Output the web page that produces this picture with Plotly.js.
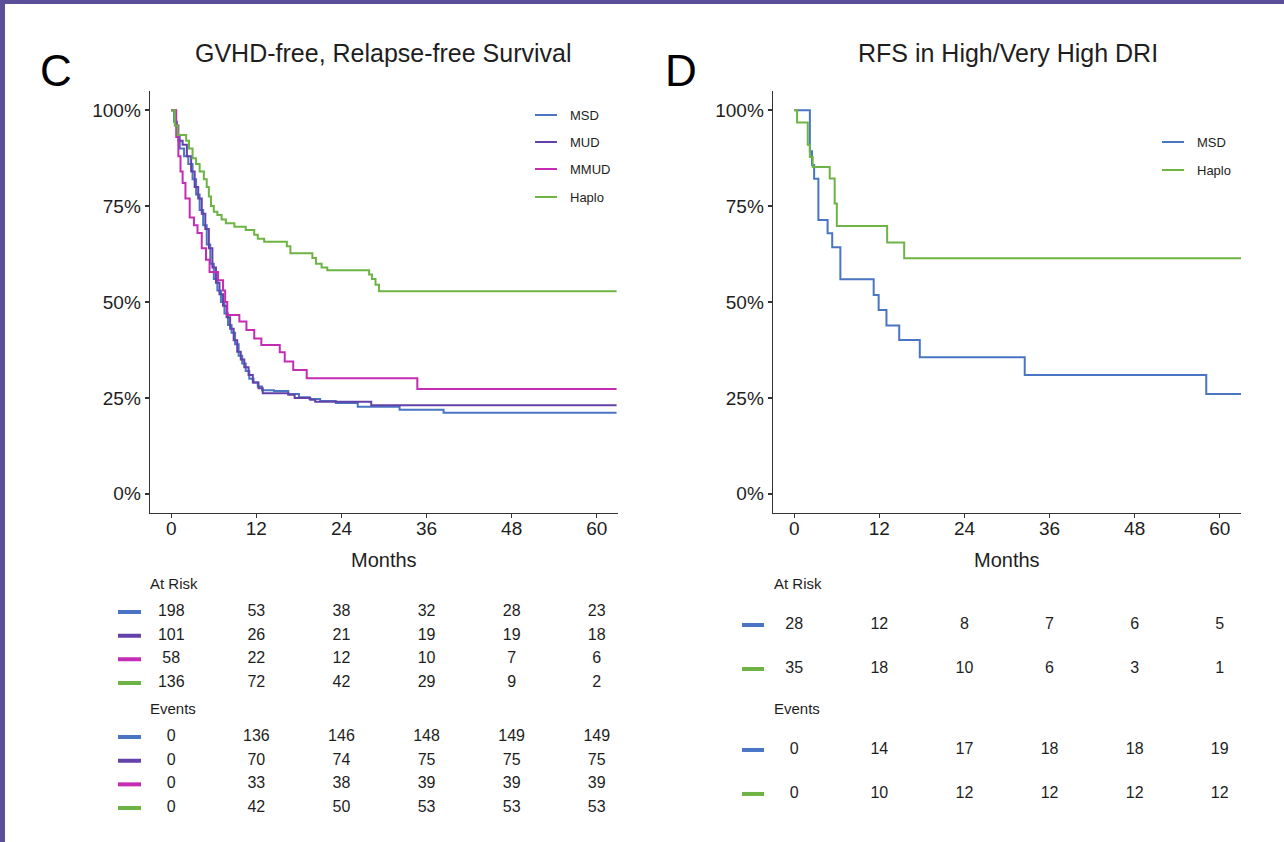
<!DOCTYPE html>
<html>
<head>
<meta charset="utf-8">
<script src="https://cdn.plot.ly/plotly-3.0.1.min.js"></script>
<style>
  html, body { margin: 0; padding: 0; background: #ffffff; }
  #chart { width: 1284px; height: 842px; }
</style>
</head>
<body>
<div id="chart"></div>
<script>
// ---- Kaplan-Meier step data (months, survival probability) ----
// Panel C: GVHD-free, relapse-free survival by donor type
const groupsC = ['MSD', 'MUD', 'MMUD', 'Haplo'];
const colorsC = ['#4a74c4', '#6341a8', '#c42cb4', '#6db445'];

const msdC_t = [0, 0.4, 0.8, 1.2, 1.8, 2.4, 3.0, 3.5, 4.0, 4.5, 5.0, 5.5, 6.0, 6.5, 7.0, 7.5, 8.0, 8.5, 9.0, 9.5, 10.0, 10.5, 11.0, 11.6, 12.2, 12.8, 14.5, 16.5, 18.0, 19.5, 21.0, 23.2, 26.3, 32.2, 38.4, 62.8];
const msdC_s = [1.0, 0.97, 0.93, 0.90, 0.88, 0.86, 0.82, 0.78, 0.74, 0.70, 0.65, 0.60, 0.56, 0.53, 0.50, 0.47, 0.44, 0.42, 0.39, 0.36, 0.34, 0.32, 0.30, 0.29, 0.28, 0.27, 0.268, 0.26, 0.252, 0.247, 0.242, 0.237, 0.227, 0.219, 0.211, 0.211];

const mudC_t = [0, 0.6, 1.0, 1.6, 2.2, 2.8, 3.3, 3.8, 4.3, 4.8, 5.3, 5.8, 6.3, 6.8, 7.3, 7.8, 8.3, 8.8, 9.3, 9.8, 10.3, 10.9, 11.5, 12.3, 12.9, 16.5, 17.4, 19.6, 20.3, 28.2, 62.8];
const mudC_s = [1.0, 0.96, 0.92, 0.91, 0.88, 0.84, 0.80, 0.77, 0.73, 0.69, 0.64, 0.59, 0.55, 0.52, 0.49, 0.46, 0.43, 0.40, 0.37, 0.35, 0.33, 0.31, 0.29, 0.275, 0.262, 0.258, 0.25, 0.245, 0.24, 0.231, 0.231];

const mmudC_t = [0, 0.7, 1.0, 1.3, 1.6, 2.0, 2.6, 3.2, 3.7, 4.3, 4.9, 5.4, 6.6, 7.3, 7.6, 7.9, 9.6, 10.6, 11.7, 12.7, 15.3, 16.0, 17.2, 19.1, 34.7, 62.8];
const mmudC_s = [1.0, 0.93, 0.88, 0.84, 0.81, 0.77, 0.72, 0.70, 0.68, 0.64, 0.61, 0.578, 0.557, 0.53, 0.50, 0.466, 0.449, 0.427, 0.405, 0.388, 0.369, 0.345, 0.323, 0.301, 0.273, 0.273];

const hapC_t = [0, 0.5, 0.9, 2.1, 2.5, 3.0, 3.5, 4.0, 4.6, 5.0, 5.3, 5.6, 6.0, 6.5, 7.1, 7.7, 8.9, 10.5, 11.7, 12.2, 13.1, 16.3, 16.8, 19.9, 20.4, 21.2, 22.0, 27.9, 28.3, 28.8, 29.3, 62.8];
const hapC_s = [1.0, 0.96, 0.935, 0.92, 0.90, 0.875, 0.86, 0.84, 0.82, 0.80, 0.775, 0.75, 0.735, 0.727, 0.715, 0.705, 0.696, 0.688, 0.675, 0.665, 0.657, 0.645, 0.627, 0.615, 0.60, 0.59, 0.583, 0.572, 0.56, 0.545, 0.528, 0.528];

// Panel D: relapse-free survival in high / very high DRI
const groupsD = ['MSD', 'Haplo'];
const colorsD = ['#4a74c4', '#6db445'];

const msdD_t = [0, 2.2, 2.5, 2.8, 3.4, 4.7, 5.35, 6.5, 11.2, 11.9, 13.0, 14.8, 17.7, 32.5, 58.1, 63];
const msdD_s = [1.0, 0.893, 0.857, 0.821, 0.714, 0.679, 0.643, 0.559, 0.518, 0.479, 0.439, 0.401, 0.356, 0.310, 0.260, 0.260];

const hapD_t = [0, 0.4, 1.9, 2.2, 2.6, 5.0, 5.7, 6.0, 13.1, 15.5, 63];
const hapD_s = [1.0, 0.968, 0.91, 0.878, 0.852, 0.822, 0.757, 0.698, 0.655, 0.614, 0.614];

// ---- Risk tables ----
const tableTimes = [0, 12, 24, 36, 48, 60];
const atRiskC = [
  [198, 53, 38, 32, 28, 23],
  [101, 26, 21, 19, 19, 18],
  [58, 22, 12, 10, 7, 6],
  [136, 72, 42, 29, 9, 2]
];
const eventsC = [
  [0, 136, 146, 148, 149, 149],
  [0, 70, 74, 75, 75, 75],
  [0, 33, 38, 39, 39, 39],
  [0, 42, 50, 53, 53, 53]
];
const atRiskD = [
  [28, 12, 8, 7, 6, 5],
  [35, 18, 10, 6, 3, 1]
];
const eventsD = [
  [0, 14, 17, 18, 18, 19],
  [0, 10, 12, 12, 12, 12]
];

// ---- Axis labels ----
const monthTicks = [0, 12, 24, 36, 48, 60];
const survTicks = [0, 0.25, 0.5, 0.75, 1];
const survTickText = ['0%', '25%', '50%', '75%', '100%'];

// ---- Layout helpers (pixel -> paper) ----
const W = 1284, H = 842;
const px = x => x / W;
const py = y => 1 - y / H;
const FONT = 'Liberation Sans, Arial, Helvetica, sans-serif';
const INK = '#1e1e1e';

const seriesC = [[msdC_t, msdC_s], [mudC_t, mudC_s], [mmudC_t, mmudC_s], [hapC_t, hapC_s]];
const seriesD = [[msdD_t, msdD_s], [hapD_t, hapD_s]];

const traces = [];
seriesC.forEach((s, i) => traces.push({
  type: 'scatter', mode: 'lines', x: s[0], y: s[1], name: groupsC[i],
  xaxis: 'x', yaxis: 'y', line: {shape: 'hv', color: colorsC[i], width: 2},
  hoverinfo: 'skip', showlegend: false
}));
seriesD.forEach((s, i) => traces.push({
  type: 'scatter', mode: 'lines', x: s[0], y: s[1], name: groupsD[i],
  xaxis: 'x2', yaxis: 'y2', line: {shape: 'hv', color: colorsD[i], width: 2},
  hoverinfo: 'skip', showlegend: false
}));

// Risk table text rows
const slotsC = {risk: [0, 1, 2, 3], events: [5.28, 6.28, 7.28, 8.28]};
const slotsD = {risk: [0, 1], events: [2.84, 3.84]};
function tableRow(vals, slot, xa, ya) {
  return {
    type: 'scatter', mode: 'text', x: tableTimes, y: tableTimes.map(() => slot),
    text: vals.map(String), textposition: 'middle center',
    textfont: {family: FONT, size: 16, color: INK},
    xaxis: xa, yaxis: ya, hoverinfo: 'skip', showlegend: false, cliponaxis: false
  };
}
atRiskC.forEach((r, i) => traces.push(tableRow(r, slotsC.risk[i], 'x3', 'y3')));
eventsC.forEach((r, i) => traces.push(tableRow(r, slotsC.events[i], 'x3', 'y3')));
atRiskD.forEach((r, i) => traces.push(tableRow(r, slotsD.risk[i], 'x4', 'y4')));
eventsD.forEach((r, i) => traces.push(tableRow(r, slotsD.events[i], 'x4', 'y4')));

const axBase = {
  showline: true, linecolor: '#333', linewidth: 1.4, mirror: false,
  ticks: 'outside', ticklen: 4, tickwidth: 1.4, tickcolor: '#333',
  showgrid: false, zeroline: false, fixedrange: true,
  tickfont: {family: FONT, size: 19, color: INK}
};
const xC = [px(150), px(618)];
const xD = [px(773), px(1241)];
const yPlot = [py(513), py(91)];

const hidden = {visible: false, showgrid: false, zeroline: false, fixedrange: true};

const layout = {
  width: W, height: H,
  margin: {l: 0, r: 0, t: 0, b: 0},
  paper_bgcolor: '#ffffff', plot_bgcolor: 'rgba(0,0,0,0)',
  showlegend: false,
  xaxis: Object.assign({}, axBase, {domain: xC, range: [-3, 63], tickvals: monthTicks, anchor: 'y', ticklabelstandoff: -6}),
  yaxis: Object.assign({}, axBase, {domain: yPlot, range: [-0.05, 1.05], tickvals: survTicks, ticktext: survTickText, anchor: 'x'}),
  xaxis2: Object.assign({}, axBase, {domain: xD, range: [-3, 63], tickvals: monthTicks, anchor: 'y2', ticklabelstandoff: -6}),
  yaxis2: Object.assign({}, axBase, {domain: yPlot, range: [-0.05, 1.05], tickvals: survTicks, ticktext: survTickText, anchor: 'x2'}),
  xaxis3: Object.assign({}, hidden, {domain: xC, range: [-3, 63], anchor: 'y3'}),
  yaxis3: Object.assign({}, hidden, {domain: [py(836.9), py(588.33)], range: [9.5, -1], anchor: 'x3'}),
  xaxis4: Object.assign({}, hidden, {domain: xD, range: [-3, 63], anchor: 'y4'}),
  yaxis4: Object.assign({}, hidden, {domain: [py(823), py(581)], range: [4.5, -1], anchor: 'x4'}),
  shapes: [],
  annotations: []
};

// Purple frame on top and left edges
layout.shapes.push({type: 'rect', xref: 'paper', yref: 'paper', x0: 0, x1: 1, y0: py(4), y1: 1, fillcolor: '#5a4f98', line: {width: 0}, layer: 'below'});
layout.shapes.push({type: 'rect', xref: 'paper', yref: 'paper', x0: 0, x1: px(5), y0: 0, y1: 1, fillcolor: '#5a4f98', line: {width: 0}, layer: 'below'});

function addText(text, x, y, size, anchor, color) {
  layout.annotations.push({
    text: text, xref: 'paper', yref: 'paper', x: px(x), y: py(y),
    xanchor: anchor || 'center', yanchor: 'middle', showarrow: false,
    font: {family: FONT, size: size, color: color || INK}
  });
}

// Panel letters, titles, axis titles
addText('C', 56, 70, 44, 'center', '#000');
addText('D', 681, 70, 44, 'center', '#000');
addText('GVHD-free, Relapse-free Survival', 384, 53, 25);
addText('RFS in High/Very High DRI', 1008, 53, 25);
addText('Months', 384, 560, 20);
addText('Months', 1007, 560, 20);

// In-plot legends
function addLegend(names, colors, lineX0, lineX1, textX, rowsY) {
  names.forEach((n, i) => {
    layout.shapes.push({type: 'line', xref: 'paper', yref: 'paper', x0: px(lineX0), x1: px(lineX1), y0: py(rowsY[i]), y1: py(rowsY[i]), line: {color: colors[i], width: 2}});
    addText(n, textX, rowsY[i], 13, 'left');
  });
}
addLegend(groupsC, colorsC, 535, 557, 568, [115, 142, 169, 197]);
addLegend(groupsD, colorsD, 1162, 1184, 1195, [142, 170]);

// Risk table headers and colour keys
addText('At Risk', 148, 583, 15, 'left');
addText('Events', 148, 708, 15, 'left');
addText('At Risk', 772, 583, 15, 'left');
addText('Events', 772, 708, 15, 'left');
function addKeys(colors, slots, yref, x0, x1) {
  colors.forEach((c, i) => layout.shapes.push({
    type: 'line', xref: 'paper', yref: yref, x0: px(x0), x1: px(x1), y0: slots[i], y1: slots[i],
    line: {color: c, width: 4}
  }));
}
addKeys(colorsC, slotsC.risk, 'y3', 118, 141);
addKeys(colorsC, slotsC.events, 'y3', 118, 141);
addKeys(colorsD, slotsD.risk, 'y4', 742, 764);
addKeys(colorsD, slotsD.events, 'y4', 742, 764);

Plotly.newPlot('chart', traces, layout, {staticPlot: true, displayModeBar: false});
</script>
</body>
</html>
